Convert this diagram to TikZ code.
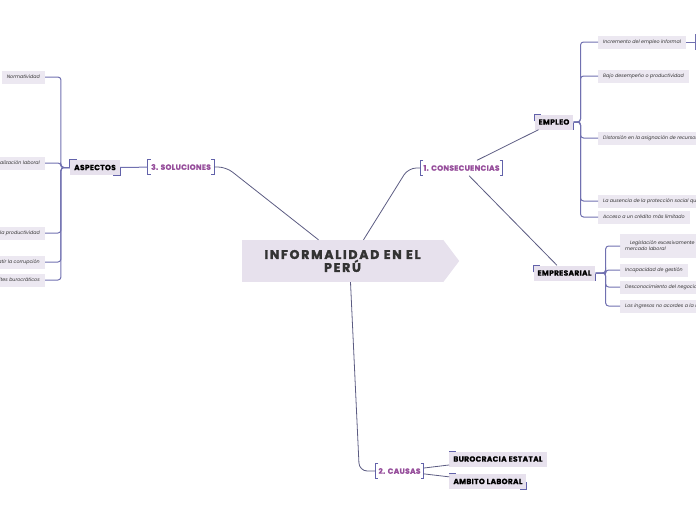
\documentclass[tikz,border=0pt]{standalone}
\usepackage{fontspec}
\setmainfont{Poppins}
\newfontfamily\headfont{Poppins}[LetterSpace=14, BoldFeatures={FakeBold=2}]
\newfontfamily\topicfont{Poppins}[LetterSpace=4, BoldFeatures={FakeBold=1}]
\usetikzlibrary{positioning}

\definecolor{lav}{RGB}{231,225,237}
\definecolor{leafc}{RGB}{236,232,241}
\definecolor{titlec}{RGB}{150,78,155}
\definecolor{brk}{RGB}{98,98,170}
\definecolor{busc}{RGB}{112,112,176}
\definecolor{linkc}{RGB}{92,92,130}
\definecolor{textc}{RGB}{51,51,51}

\begin{document}
\begin{tikzpicture}[x=1pt, y=-1pt,
link/.style={draw=linkc, line width=0.8pt, rounded corners=8pt},
bus/.style={draw=busc, line width=1pt, rounded corners=3pt},
root/.style={fill=lav, text=textc, font=\headfont\bfseries\fontsize{12.5}{13}\selectfont,
  align=center, minimum width=201pt, minimum height=42pt},
branch/.style={text=titlec, font=\topicfont\bfseries\fontsize{7.5}{8}\selectfont,
  inner xsep=3pt, inner ysep=2pt, minimum height=15pt,
  append after command={\pgfextra{\draw[brk, line width=1pt]
  ([xshift=3pt]\tikzlastnode.north west) -- (\tikzlastnode.north west) -- (\tikzlastnode.south west) -- ([xshift=3pt]\tikzlastnode.south west)
  ([xshift=-3pt]\tikzlastnode.north east) -- (\tikzlastnode.north east) -- (\tikzlastnode.south east) -- ([xshift=-3pt]\tikzlastnode.south east);}}},
topic/.style={fill=lav, text=black, font=\topicfont\bfseries\fontsize{7.5}{8}\selectfont,
  inner xsep=4pt, minimum height=15pt,
  append after command={\pgfextra{\draw[brk, line width=1.3pt]
  ([yshift=-7pt]\tikzlastnode.north west) |- ([xshift=7pt]\tikzlastnode.north west)
  ([yshift=7pt]\tikzlastnode.south east) |- ([xshift=-7pt]\tikzlastnode.south east);}}},
leaf/.style={fill=leafc, text=textc, font=\itshape\fontsize{4.8}{6}\selectfont,
  minimum height=13pt, inner xsep=5pt}]

\path[use as bounding box] (0,0) rectangle (696,520);
\clip (0,0) rectangle (696,520);

% centre
\node[root] (peru) at (342.5,261) {INFORMALIDAD EN EL\\PERÚ};
\fill[lav] (peru.north east) -- ([xshift=16pt]peru.east) -- (peru.south east) -- cycle;

% main branches
\node[branch] (cons) at (461.5,168) {1. CONSECUENCIAS};
\node[branch] (caus) at (399.5,471) {2. CAUSAS};
\node[branch] (sol) at (181,167) {3. SOLUCIONES};

% consecuencias
\node[topic] (empleo) at (554,122) {EMPLEO};
\node[topic] (empre) at (564.5,273) {EMPRESARIAL};
\node[leaf, anchor=west] (e1) at (598,42) {Incremento del empleo informal};
\node[leaf, anchor=west] (e2) at (598,76) {Bajo desempeño o productividad};
\node[leaf, anchor=west] (e3) at (598,138) {Distorsión en la asignación de recursos};
\node[leaf, anchor=west] (e4) at (598,201) {La ausencia de la protección social que};
\node[leaf, anchor=west] (e5) at (598,217) {Acceso a un crédito más limitado};
\coordinate (e1up) at (695,34);
\coordinate (e1dn) at (695,50);
\node[leaf, anchor=west, align=left, minimum height=24pt] (p1) at (620,246)
  {\quad Legislación excesivamente rígida en el\\mercado laboral};
\node[leaf, anchor=west] (p2) at (620,270) {Incapacidad de gestión};
\node[leaf, anchor=west] (p3) at (620,287) {Desconocimiento del negocio};
\node[leaf, anchor=west] (p4) at (620,306) {Los ingresos no acordes a la realidad};

% causas
\node[topic] (buro) at (498,459) {BUROCRACIA ESTATAL};
\node[topic, below=7pt of buro.south west, anchor=north west] (ambito) {AMBITO LABORAL};

% soluciones
\node[topic] (asp) at (95,167.5) {ASPECTOS};
\node[leaf, anchor=east] (a1) at (45,77) {Normatividad};
\node[leaf, anchor=east] (a2) at (45,163) {Formalización laboral};
\node[leaf, anchor=east] (a3) at (45,233) {Incrementar la productividad};
\node[leaf, anchor=east] (a4) at (45,262) {Combatir la corrupción};
\node[leaf, anchor=east] (a5) at (45,280) {Reducir trámites burocráticos};

% connectors
\draw[link] ([xshift=21pt]peru.north) -- ([xshift=-12pt]cons.west) -- (cons.west);
\draw[link] ([xshift=-24pt]peru.north) -- ([xshift=12pt]sol.east) -- (sol.east);
\draw[link] ([xshift=8pt]peru.south) -- ([xshift=-16pt]caus.west) -- (caus.west);
\draw[link] (cons) -- (empleo);
\draw[link] (cons) -- (empre);
\draw[link] (caus) -- (buro);
\draw[link] (caus) -- (ambito);
\draw[bus] (sol) -- (asp);
\foreach \n in {e1,e2,e3,e4,e5}
  \draw[bus] (empleo.east) -- ++(7,0) |- (\n.west);
\draw[bus] (e1.east) -- (e1up |- e1.east);
\draw[bus] (e1up) -- (e1dn);
\foreach \n in {p1,p2,p3,p4}
  \draw[bus] (empre.east) -- ++(10,0) |- (\n.west);
\foreach \n in {a1,a2,a3,a4,a5}
  \draw[bus] (asp.west) -- ++(-9,0) |- (\n.east);

\end{tikzpicture}
\end{document}
